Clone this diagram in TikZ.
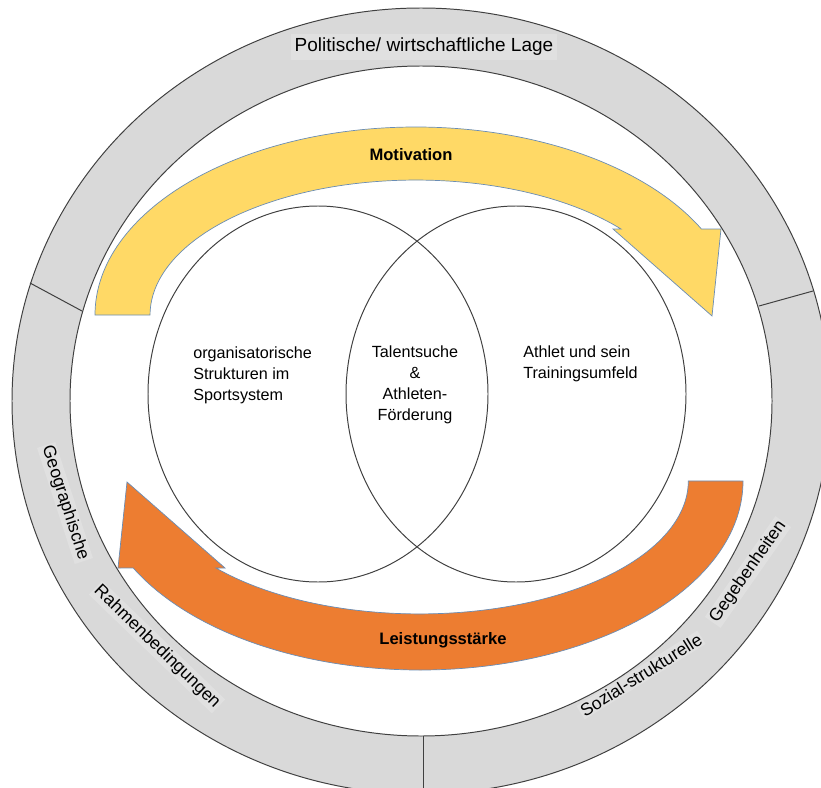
\documentclass[tikz,border=0pt]{standalone}
\usepackage{fontspec}
\setmainfont{Liberation Sans}
\usetikzlibrary{calc}

\definecolor{ringgray}{HTML}{D9D9D9}
\definecolor{linegray}{HTML}{404040}
\definecolor{motivgelb}{HTML}{FFD966}
\definecolor{leistorange}{HTML}{ED7D31}
\definecolor{randblau}{HTML}{6A8DB5}

\begin{document}
\begin{tikzpicture}[x=0.025cm, y=-0.025cm,
  band/.style={draw=randblau, line width=0.5pt},
  kreis/.style={draw=linegray, line width=0.7pt},
  txt/.style={font=\fontsize{11.5}{15}\selectfont, inner sep=0pt},
  fett/.style={font=\bfseries\fontsize{11.8}{14}\selectfont, inner sep=0pt},
  ringtxt/.style={font=\fontsize{12.5}{15}\selectfont, inner sep=1pt, fill=black!12}]
  \useasboundingbox (0,0) rectangle (821,788);
  \clip (0,0) rectangle (821,788);
  % Rahmen
  \fill[ringgray, even odd rule] (421,401) ellipse [x radius=409, y radius=393]
    (421,401) ellipse [x radius=351, y radius=335];
  \draw[kreis] (421,401) ellipse [x radius=409, y radius=393];
  \draw[kreis] (421,401) ellipse [x radius=351, y radius=335];
  \draw[kreis] (30,283) -- (82,311);
  \draw[kreis] (813,291) -- (759,306);
  \draw[kreis] (423,736) -- (423,800);
  % Pfeile
  \draw[band, fill=motivgelb] (95,315) arc[start angle=180, end angle=332.8, x radius=321, y radius=188]
    -- (721,229) -- (712,316) -- (613,229) -- (621,229)
    arc[start angle=320.4, end angle=180, x radius=266, y radius=135] -- cycle;
  \draw[band, fill=leistorange] (743,481) arc[start angle=0, end angle=152.6, x radius=323, y radius=189]
    -- (118,568) -- (127,482) -- (225,568) -- (216,568)
    arc[start angle=139.1, end angle=0, x radius=269, y radius=133] -- cycle;
  % Venn
  \draw[kreis] (318,394) ellipse [x radius=170, y radius=188];
  \draw[kreis] (516,394) ellipse [x radius=170, y radius=188];
  % Texte
  \node[font=\fontsize{13.5}{16}\selectfont, fill=black!12, inner sep=3pt] (lage) at (424,47) {Politische/ wirtschaftliche Lage};
  \node[fett] (motiv) at (411,155) {Motivation};
  \node[fett] (leist) at (443,640) {Leistungsstärke};
  \node[txt, align=left, anchor=west] (orga) at (193,375) {organisatorische\\Strukturen im\\Sportsystem};
  \node[txt, align=center] (talent) at (415,385) {Talentsuche\\\&\\Athleten-\\Förderung};
  \node[txt, align=left, anchor=west] (athlet) at (523,364) {Athlet und sein\\Trainingsumfeld};
  \node[ringtxt, rotate=-72] (geo) at (65,503) {Geographische};
  \node[ringtxt, rotate=-44] (rahmen) at (157,647) {Rahmenbedingungen};
  \node[ringtxt, rotate=32] (sozial) at (641,675) {Sozial-strukturelle};
  \node[ringtxt, rotate=55] (gegeben) at (748,572) {Gegebenheiten};
\end{tikzpicture}
\end{document}
